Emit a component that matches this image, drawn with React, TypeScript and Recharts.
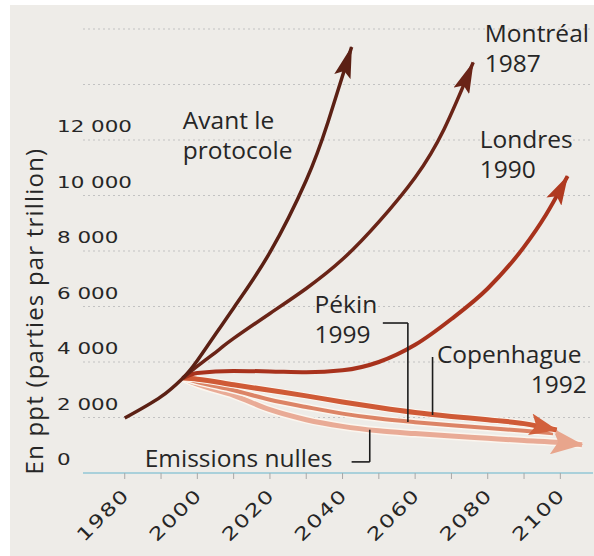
import { LineChart, Line, XAxis, YAxis, CartesianGrid, ReferenceDot, ReferenceLine } from 'recharts'

// [year, ppt]
const avantLeProtocole = [
  [1980, 1980], [1990, 2750], [1996, 3420], [2000, 4050], [2010, 5950],
  [2020, 7950], [2030, 10550], [2036, 12650], [2042.5, 15350],
]
const montreal1987 = [
  [1996, 3420], [2000, 3850], [2006, 4450], [2010, 4850], [2020, 5750], [2030, 6650],
  [2040, 7700], [2050, 9050], [2060, 10650], [2068, 12400], [2076, 14800],
]
const londres1990 = [
  [1996, 3420], [2000, 3600], [2010, 3680], [2020, 3660], [2030, 3630], [2040, 3700],
  [2050, 4000], [2060, 4620], [2070, 5550], [2080, 6650], [2090, 8150], [2096, 9300], [2102, 10700],
]
const copenhague1992 = [
  [1996, 3420], [2000, 3380], [2010, 3180], [2020, 2980], [2030, 2780], [2040, 2560],
  [2050, 2360], [2060, 2180], [2070, 2040], [2080, 1920], [2090, 1780], [2099, 1550],
]
const pekin1999 = [
  [1996, 3420], [2000, 3280], [2010, 2980], [2020, 2640], [2030, 2380], [2040, 2140],
  [2050, 1960], [2060, 1830], [2070, 1720], [2080, 1620], [2090, 1520], [2098, 1430],
]
const emissionsNulles = [
  [1996, 3420], [2000, 3200], [2010, 2800], [2020, 2280], [2030, 1920], [2040, 1680],
  [2050, 1520], [2060, 1420], [2070, 1330], [2080, 1250], [2090, 1170], [2100, 1100], [2106, 1020],
]

const yearTicks = [1980, 1990, 2000, 2010, 2020, 2030, 2040, 2050, 2060, 2070, 2080, 2090, 2100]
const pptTicks = [0, 2000, 4000, 6000, 8000, 10000, 12000, 14000]

// annotation text: [lines, year, ppt, anchor, lineHeight]
const annotations: [string[], number, number, string, number][] = [
  [['Avant le', 'protocole'], 1996, 12400, 'start', 30],
  [['Montréal', '1987'], 2079.2, 15530, 'start', 30],
  [['Londres', '1990'], 2077.8, 11710, 'start', 30],
  [['Pékin', '1999'], 2032.3, 5770, 'start', 30],
  [['Copenhague'], 2066, 3960, 'start', 30],
  [['1992'], 2107.3, 2880, 'end', 30],
  [['Emissions nulles'], 1985.5, 216, 'start', 30],
]

// leader lines: [[year, ppt], [year, ppt]]
const leaders = [
  [[2051.1, 5405], [2058, 5405]],
  [[2058, 5405], [2058, 1840]],
  [[2064.8, 4180], [2064.8, 2090]],
  [[2042.5, 400], [2047.5, 400]],
  [[2047.5, 400], [2047.5, 1560]],
]

const toPts = (arr: number[][]) => arr.map(([year, ppt]) => ({ year, ppt }))

const TXT = '#262626'

function Annot(props: any) {
  const { viewBox, lines, anchor, lh } = props
  const x = viewBox.x
  const y = viewBox.y
  return (
    <text x={x} y={y} fontFamily="Open Sans" fontSize={24.5} fill={TXT} textAnchor={anchor}>
      {lines.map((l: string, i: number) => (
        <tspan key={i} x={x} dy={i === 0 ? 0 : lh}>{l}</tspan>
      ))}
    </text>
  )
}

function YTick(props: any) {
  const { y, payload } = props
  if (payload.value === 14000) return null
  const label = payload.value === 0 ? '0' : `${payload.value / 1000} 000`
  return (
    <text transform={`translate(57, ${y - 8}) scale(1.3, 1)`} fontFamily="DejaVu Sans" fontSize={16.5} fill={TXT}>
      {label}
    </text>
  )
}

function XTick(props: any) {
  const { x, y, payload } = props
  if (payload.value % 20 !== 0) return null
  return (
    <g transform={`translate(${x + 6}, ${y + 15}) rotate(-45) scale(1.3, 1)`}>
      <text textAnchor="end" fontFamily="DejaVu Sans" fontSize={18} letterSpacing={1.2} fill={TXT}>
        {payload.value}
      </text>
    </g>
  )
}

function Arrow({ id, color, len, wid, notch }: { id: string; color: string; len: number; wid: number; notch: number }) {
  return (
    <marker id={id} markerUnits="userSpaceOnUse" markerWidth={len} markerHeight={wid}
      viewBox={`0 0 ${len} ${wid}`} refX={len - 1} refY={wid / 2} orient="auto">
      <path d={`M0,0 L${len},${wid / 2} L0,${wid} L${notch},${wid / 2} Z`} fill={color} />
    </marker>
  )
}

export default function App() {
  return (
    <div style={{ position: 'absolute', left: 0, top: 0, width: 594, height: 556, background: '#fff' }}>
      <div style={{ position: 'absolute', left: 10, top: 5, right: 0, bottom: 0, background: '#eeece8' }} />
      <svg width={0} height={0} style={{ position: 'absolute' }}>
        <defs>
          <Arrow id="arDark" color="#5b2014" len={32} wid={17} notch={6} />
          <Arrow id="arMont" color="#6a2417" len={32} wid={17} notch={6} />
          <Arrow id="arLon" color="#b03a20" len={30} wid={17} notch={6} />
          <Arrow id="arCop" color="#d2603c" len={28} wid={22} notch={6} />
          <Arrow id="arNul" color="#e8a58c" len={32} wid={26} notch={7} />
        </defs>
      </svg>
      <div style={{ position: 'absolute', left: 0, top: 0 }}>
        <LineChart width={594} height={556} margin={{ top: 29, right: 1, bottom: 0, left: 0 }}>
          <CartesianGrid vertical={false} stroke="#c2c2c2" strokeDasharray="2 3" />
          <XAxis
            dataKey="year"
            type="number"
            domain={[1968.5, 2109]}
            ticks={yearTicks}
            interval={0}
            height={83}
            allowDataOverflow
            axisLine={{ stroke: '#a9d0da', strokeWidth: 2 }}
            tickLine={{ stroke: '#a8a8a8' }}
            tickSize={6}
            tick={<XTick />}
          />
          <YAxis
            type="number"
            domain={[0, 16000]}
            ticks={pptTicks}
            interval={0}
            width={83}
            allowDataOverflow
            axisLine={false}
            tickLine={false}
            tick={<YTick />}
            label={{
              content: () => (
                <text transform="translate(43, 311) rotate(-90)" textAnchor="middle" fontFamily="Open Sans"
                  fontSize={24} letterSpacing={1.2} fill={TXT}>
                  En ppt (parties par trillion)
                </text>
              ),
            }}
          />
          <Line data={toPts(emissionsNulles)} dataKey="ppt" type="monotone" stroke="#fbf6ef" strokeWidth={8}
            dot={false} activeDot={false} isAnimationActive={false} />
          <Line data={toPts(emissionsNulles)} dataKey="ppt" type="monotone" stroke="#e9ab96" strokeWidth={5}
            dot={false} activeDot={false} isAnimationActive={false} markerEnd="url(#arNul)" />
          <Line data={toPts(pekin1999)} dataKey="ppt" type="monotone" stroke="#fbf6ef" strokeWidth={7}
            dot={false} activeDot={false} isAnimationActive={false} />
          <Line data={toPts(pekin1999)} dataKey="ppt" type="monotone" stroke="#dc8466" strokeWidth={4}
            dot={false} activeDot={false} isAnimationActive={false} />
          <Line data={toPts(copenhague1992)} dataKey="ppt" type="monotone" stroke="#fbf6ef" strokeWidth={7}
            dot={false} activeDot={false} isAnimationActive={false} />
          <Line data={toPts(copenhague1992)} dataKey="ppt" type="monotone" stroke="#cf5a36" strokeWidth={5}
            dot={false} activeDot={false} isAnimationActive={false} markerEnd="url(#arCop)" />
          <Line data={toPts(londres1990)} dataKey="ppt" type="monotone" stroke="#a8321c" strokeWidth={4}
            dot={false} activeDot={false} isAnimationActive={false} markerEnd="url(#arLon)" />
          <Line data={toPts(montreal1987)} dataKey="ppt" type="natural" stroke="#6a2417" strokeWidth={3.5}
            dot={false} activeDot={false} isAnimationActive={false} markerEnd="url(#arMont)" />
          <Line data={toPts(avantLeProtocole)} dataKey="ppt" type="natural" stroke="#5b2014" strokeWidth={3.5}
            dot={false} activeDot={false} isAnimationActive={false} markerEnd="url(#arDark)" />
          {leaders.map((seg, i) => (
            <ReferenceLine key={`l${i}`} segment={[{ x: seg[0][0], y: seg[0][1] }, { x: seg[1][0], y: seg[1][1] }]}
              stroke="#1c1c1c" strokeWidth={1.6} />
          ))}
          {annotations.map(([lines, year, ppt, anchor, lh], i) => (
            <ReferenceDot key={`a${i}`} x={year} y={ppt} r={0} fill="none" stroke="none"
              label={<Annot lines={lines} anchor={anchor} lh={lh} />} />
          ))}
        </LineChart>
      </div>
    </div>
  )
}
